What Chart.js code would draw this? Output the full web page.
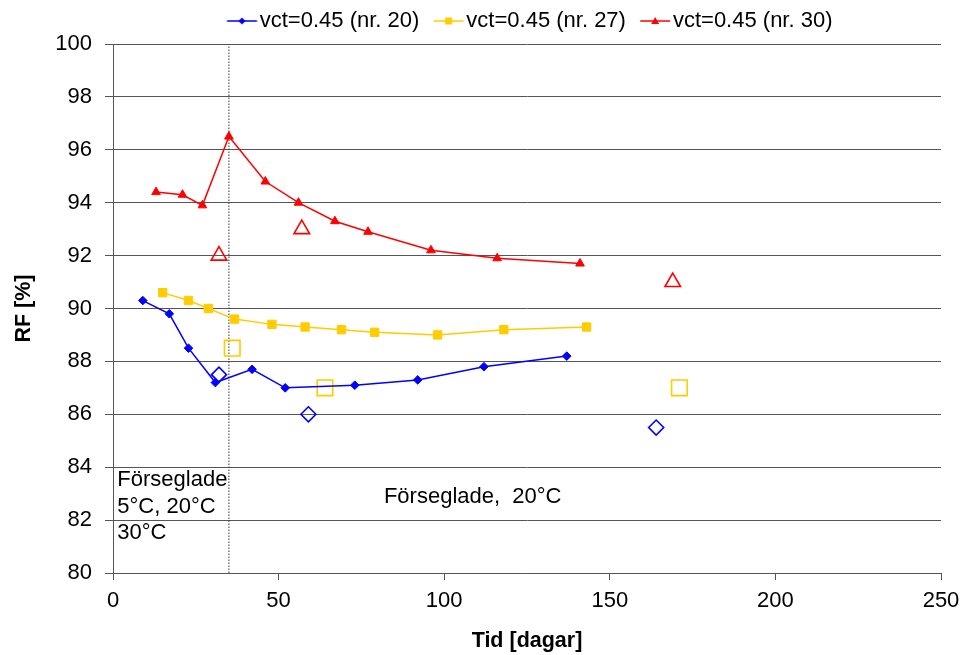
<!DOCTYPE html>
<html><head><meta charset="utf-8">
<script src="https://cdn.jsdelivr.net/npm/chart.js@4/dist/chart.umd.min.js"></script>
<style>html,body{margin:0;padding:0;background:#fff}#wrap{width:964px;height:655px}</style>
</head><body><div id="wrap"><canvas id="c" width="964" height="655"></canvas></div>
<script>
// ---- data ----
const seriesLabels = ['vct=0.45 (nr. 20)', 'vct=0.45 (nr. 27)', 'vct=0.45 (nr. 30)'];
const days20 = [9, 17, 22.8, 30.9, 42, 52, 73, 92, 112, 137];
const rf20   = [90.3, 89.8, 88.5, 87.2, 87.7, 87.0, 87.1, 87.3, 87.8, 88.2];
const days27 = [15, 22.8, 28.8, 36.7, 48, 58, 69, 79, 98, 118, 143];
const rf27   = [90.6, 90.3, 90.0, 89.6, 89.4, 89.3, 89.2, 89.1, 89.0, 89.2, 89.3];
const days30 = [13, 21, 27, 35, 46, 56, 67, 77, 96, 116, 141];
const rf30   = [94.4, 94.3, 93.9, 96.5, 94.8, 94.0, 93.3, 92.9, 92.2, 91.9, 91.7];
const openDays20 = [32, 59, 164];
const openRf20   = [87.5, 86.0, 85.5];
const openDays27 = [36, 64, 171];
const openRf27   = [88.5, 87.0, 87.0];
const openDays30 = [32, 57, 169];
const openRf30   = [92.0, 93.0, 91.0];
const sealDay = 35;
const xTickValues = [0, 50, 100, 150, 200, 250];
const yTickValues = [80, 82, 84, 86, 88, 90, 92, 94, 96, 98, 100];
const noteLeft = ['Förseglade', '5°C, 20°C', '30°C'];
const noteRight = 'Förseglade,  20°C';

const FONT = "'Liberation Sans', Arial, sans-serif";
const colors = ['#0000FF', '#FFCC00', '#FF0000'];
const toXY = (xs, ys) => xs.map((x, i) => ({x, y: ys[i]}));

function legendIcon(color, style) {
  const c = document.createElement('canvas');
  c.width = 44; c.height = 14;
  const g = c.getContext('2d');
  g.strokeStyle = color; g.fillStyle = color; g.lineWidth = 1.5;
  g.beginPath(); g.moveTo(13.25, 7); g.lineTo(43.25, 7); g.stroke();
  const cx = 28.25, cy = 7;
  g.beginPath();
  if (style === 'diamond') {
    g.moveTo(cx, cy - 3.5); g.lineTo(cx + 3.5, cy); g.lineTo(cx, cy + 3.5); g.lineTo(cx - 3.5, cy); g.closePath();
  } else if (style === 'square') {
    g.rect(cx - 3.5, cy - 3.5, 7, 7);
  } else {
    g.moveTo(cx, cy - 4); g.lineTo(cx + 4, cy + 3); g.lineTo(cx - 4, cy + 3); g.closePath();
  }
  g.fill();
  return c;
}
const icons = [legendIcon(colors[0], 'diamond'), legendIcon(colors[1], 'square'), legendIcon(colors[2], 'triangle')];

const lineDs = (label, xs, ys, color, style, r) => ({
  label, data: toXY(xs, ys), borderColor: color, backgroundColor: color,
  borderWidth: 1.5, pointStyle: style, pointRadius: r, pointHoverRadius: r,
  pointBackgroundColor: color, pointBorderColor: color, pointBorderWidth: 1,
  showLine: true, tension: 0
});
const openDs = (xs, ys, color, style, r) => ({
  label: '', data: toXY(xs, ys), borderColor: color, backgroundColor: 'rgba(0,0,0,0)',
  showLine: false, pointStyle: style, pointRadius: r, pointHoverRadius: r,
  pointBackgroundColor: 'rgba(0,0,0,0)', pointBorderColor: color, pointBorderWidth: 1.6
});

const datasets = [
  lineDs(seriesLabels[0], days20, rf20, colors[0], 'rectRot', 4.3),
  lineDs(seriesLabels[1], days27, rf27, colors[1], 'rect', 5.9),
  lineDs(seriesLabels[2], days30, rf30, colors[2], 'triangle', 5),
  openDs(openDays20, openRf20, colors[0], 'rectRot', 7.5),
  openDs(openDays27, openRf27, colors[1], 'rect', 11),
  openDs(openDays30, openRf30, colors[2], 'triangle', 9),
  {
    label: '', data: [{x: sealDay, y: yTickValues[0]}, {x: sealDay, y: yTickValues[yTickValues.length - 1]}],
    borderColor: '#333', borderWidth: 1, borderDash: [1.5, 1.5], pointRadius: 0, showLine: true
  }
];

const layoutFix = {
  id: 'layoutFix',
  afterInit(chart) {
    const lg = chart.legend;
    const orig = lg.fit.bind(lg);
    lg.fit = function () { orig(); this.height = 44; };
  },
  afterLayout(chart) {
    const lg = chart.legend;
    if (lg && lg.lineWidths) {
      const pad = 10;
      lg.left = 2 * 222.75 - pad - lg.right + lg.lineWidths[0];
    }
  }
};

const notes = {
  id: 'notes',
  afterDatasetsDraw(chart) {
    const {ctx, scales: {x, y}} = chart;
    ctx.save();
    ctx.font = "22px " + FONT;
    ctx.fillStyle = '#000';
    ctx.textAlign = 'left';
    ctx.textBaseline = 'alphabetic';
    const ly = [83.3, 82.26, 81.27];
    noteLeft.forEach((t, i) => ctx.fillText(t, x.getPixelForValue(1.3), y.getPixelForValue(ly[i])));
    ctx.fillText(noteRight, x.getPixelForValue(81.8), y.getPixelForValue(82.65));
    ctx.restore();
  }
};

new Chart(document.getElementById('c'), {
  type: 'scatter',
  data: {datasets},
  plugins: [layoutFix, notes],
  options: {
    responsive: false,
    devicePixelRatio: 1,
    animation: false,
    layout: {padding: {left: 0, right: 23, top: 0, bottom: 0}},
    plugins: {
      tooltip: {enabled: false},
      legend: {
        display: true, position: 'top', align: 'center',
        labels: {
          usePointStyle: true, pointStyleWidth: 26, boxHeight: 22,
          padding: 10, color: '#000',
          font: {family: FONT, size: 22},
          generateLabels() {
            return seriesLabels.map((t, i) => ({
              text: t, pointStyle: icons[i], fillStyle: colors[i], strokeStyle: colors[i],
              lineWidth: 0, hidden: false, datasetIndex: i, fontColor: '#000'
            }));
          }
        }
      }
    },
    scales: {
      x: {
        type: 'linear', min: xTickValues[0], max: xTickValues[xTickValues.length - 1],
        afterFit(s) { s.height = 82; s.paddingLeft = 0; s.paddingRight = 0; },
        ticks: {stepSize: 50, color: '#000', padding: 8, font: {family: FONT, size: 22}, maxRotation: 0},
        grid: {drawOnChartArea: false, drawTicks: true, tickLength: 7, color: '#555'},
        border: {display: true, color: '#555', width: 1},
        title: {display: true, text: 'Tid [dagar]', color: '#000', font: {family: FONT, size: 21.5, weight: 'bold'}, padding: {top: 0, bottom: 1}}
      },
      y: {
        type: 'linear', min: yTickValues[0], max: yTickValues[yTickValues.length - 1],
        afterFit(s) { s.width = 113; s.paddingTop = 0; s.paddingBottom = 0; },
        ticks: {stepSize: 2, color: '#000', padding: 13, font: {family: FONT, size: 22}},
        grid: {drawOnChartArea: true, drawTicks: true, tickLength: 8, color: '#555'},
        border: {display: true, color: '#555', width: 1},
        title: {display: true, text: 'RF [%]', color: '#000', font: {family: FONT, size: 21.5, weight: 'bold'}, padding: {top: 11, bottom: 0}}
      }
    }
  }
});
</script>
</body></html>
